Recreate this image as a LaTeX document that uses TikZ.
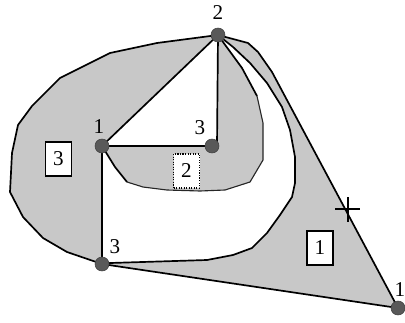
\documentclass[tikz,border=0pt]{standalone}
\usepackage{fontspec}
\setmainfont{Liberation Serif}
\begin{document}
\begin{tikzpicture}[x=0.025cm,y=-0.025cm,
  dot/.style={circle,fill=black!65,draw=black!75,line width=0.4pt,inner sep=0pt,minimum size=0.35cm},
  region/.style={fill={rgb,255:red,200;green,200;blue,200}},
  edge/.style={line width=1.2pt,line join=round},
  thinedge/.style={line width=0.8pt,draw=black!85,line join=round},
  lbl/.style={font=\fontsize{15}{17}\selectfont,inner sep=0pt},
  tag/.style={draw,line width=0.8pt,fill=white,minimum width=0.65cm,minimum height=0.85cm,inner sep=0pt,font=\fontsize{15}{17}\selectfont}]
\useasboundingbox (0,0) rectangle (405,322);
\clip (0,0) rectangle (405,322);
% vertices
\coordinate (p2) at (218,35);
\coordinate (p1) at (102,146);
\coordinate (p3) at (212,146);
\coordinate (p3b) at (102,264);
\coordinate (p1b) at (398,308);
\coordinate (v3) at (217,146);
% region 3
\fill[region] (p2) -- (157,43) -- (110,53) -- (60,78) -- (32,106) -- (18,125) -- (12,153) -- (10,192) -- (23,217) -- (43,238) -- (67,252) -- (p3b) -- (p1) -- cycle;
% region 1
\fill[region] (p2) -- (248,43) -- (258,52) -- (272,72) -- (p1b) -- (p3b) -- (110,263) -- (207,260) -- (233,255) -- (252,248) -- (267,233) -- (280,215) -- (292,197) -- (295,183) -- (295,157) -- (290,130) -- (282,107) -- (267,83) -- (250,63) -- (233,47) -- cycle;
% region 2
\fill[region] (p2) -- (v3) -- (p1) -- (115,167) -- (127,182) -- (143,187) -- (167,190) -- (200,191) -- (225,190) -- (250,182) -- (263,160) -- (263,123) -- (257,96) -- (242,68) -- (223,42) -- cycle;
% outlines
\draw[edge] (p2) -- (157,43) -- (110,53) -- (60,78) -- (32,106) -- (18,125) -- (12,153) -- (10,192) -- (23,217) -- (43,238) -- (67,252) -- (p3b);
\draw[edge] (p2) -- (248,43) -- (258,52) -- (272,72) -- (p1b);
\draw[edge] (p1b) -- (p3b);
\draw[edge] (p3b) -- (110,263) -- (207,260) -- (233,255) -- (252,248) -- (267,233) -- (280,215) -- (292,197) -- (295,183) -- (295,157) -- (290,130) -- (282,107) -- (267,83) -- (250,63) -- (233,47) -- (p2);
\draw[edge] (p2) -- (223,42) -- (242,68) -- (257,96);
\draw[thinedge] (257,96) -- (263,123) -- (263,160) -- (250,182) -- (225,190) -- (200,191) -- (167,190) -- (143,187) -- (127,182);
\draw[edge] (127,182) -- (115,167) -- (p1);
\draw[edge] (p1) -- (p2);
\draw[edge] (p2) -- (v3);
\draw[edge] (p1) -- (p3);
\draw[edge] (p1) -- (p3b);
% crosshair
\coordinate (cx) at (348,209);
\draw[line width=0.8pt] (335,209) -- (360,209) (348,197) -- (348,222);
% dots
\node[dot] (n2) at (p2) {};
\node[dot] (n1) at (p1) {};
\node[dot] (n3) at (p3) {};
\node[dot] (n3b) at (p3b) {};
\node[dot] (n1b) at (p1b) {};
% labels
\node[lbl] (l2) at (218,13) {2};
\node[lbl] (l1) at (99,127) {1};
\node[lbl] (l3) at (200,128) {3};
\node[lbl] (l3b) at (115,247) {3};
\node[lbl] (l1b) at (400,290) {1};
% tags
\node[tag] (t3) at (58.5,159) {3};
\node[tag,densely dotted] (t2) at (186.5,171) {2};
\node[tag] (t1) at (320,248) {1};
\end{tikzpicture}
\end{document}
